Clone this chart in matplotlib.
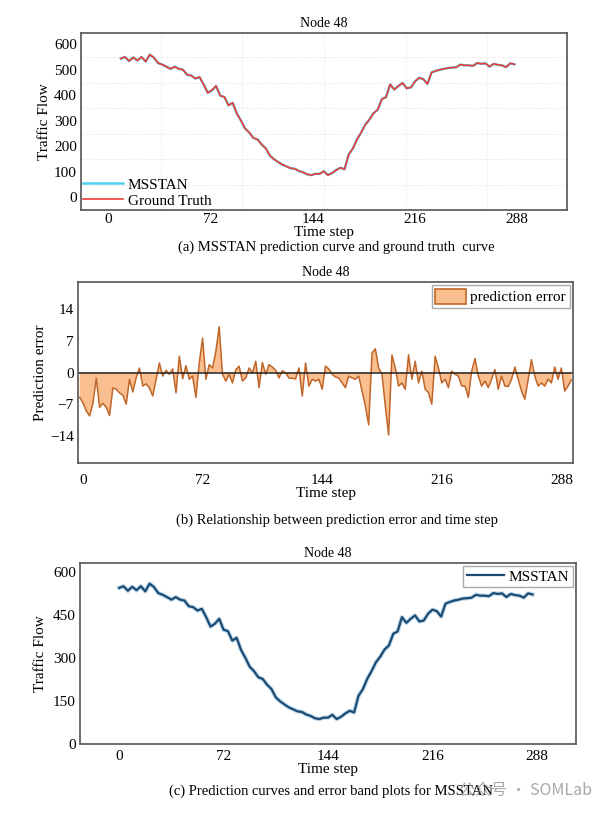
import numpy as np
import matplotlib
matplotlib.use("Agg")
import matplotlib.pyplot as plt
from matplotlib.patches import Patch

plt.rcParams['font.family'] = ['Liberation Serif', 'DejaVu Serif']

# traffic flow of node 48, read every 3 time steps
steps = np.arange(0, 288, 3)
flow = [545, 551, 535, 549, 537, 551, 533, 560, 548, 527, 521, 513,
        504, 513, 504, 501, 481, 478, 466, 472, 443, 410, 420, 437,
        399, 394, 361, 371, 329, 301, 270, 254, 233, 227, 207, 192,
        163, 149, 138, 128, 121, 114, 112, 103, 98, 90, 87, 92,
        92, 102, 87, 95, 107, 116, 110, 168, 191, 227, 254, 285,
        305, 330, 344, 385, 393, 443, 423, 437, 449, 428, 431, 455,
        469, 464, 445, 490, 496, 501, 504, 508, 509, 511, 521, 518,
        518, 516, 527, 524, 526, 513, 524, 520, 518, 511, 526, 522]

# prediction error, read every 2 time steps starting at -2
err = [-5.5, -6.7, -8.5, -9.6, -6.8, -1.3, -7.7, -6.8, -7.7, -9.5,
       -3.4, -3.7, -4.5, -5.0, -7.0, -1.5, -4.3, -1.2, 1.0, -3.0,
       -2.5, -3.4, -5.2, -1.5, 2.1, -0.8, 0.5, -0.4, 0.8, -4.5,
       3.6, -1.4, 1.5, -1.5, -0.8, -5.5, 2.1, 7.6, -1.5, 1.75,
       1.0, 4.7, 10.1, -0.4, -1.9, -0.4, -2.3, 0.6, 1.4, -1.9,
       -1.2, 1.0, -0.1, 2.5, -3.35, 2.2, -0.4, 1.75, 1.2, 0.5,
       -1.2, 0.4, -0.1, -1.2, -1.3, -1.4, 1.0, -5.2, 2.1, -3.0,
       -1.5, -1.9, -1.5, -3.7, 1.4, 0.8, -0.4, -1.0, -1.2, -2.3,
       -3.35, -0.8, -1.2, -1.5, -0.8, -4.1, -7.4, -11.6, 4.3, 5.25,
       1.0, -0.4, -7.4, -13.8, 3.9, 1.0, -3.0, -2.3, -3.7, 3.9,
       -1.5, 2.5, -2.3, 0.3, -3.7, -4.45, -7.0, 3.6, 1.0, -2.3,
       -1.5, -3.35, 0.3, -0.4, -0.8, -3.0, -3.0, -5.5, 0.3, 3.1,
       -0.8, -3.0, -1.9, -3.35, -1.5, 0.66, -3.7, -0.8, -3.0, -3.1,
       -1.5, 1.2, -1.5, -4.1, -5.9, -1.5, 2.85, -0.8, -3.0, -2.3,
       -3.0, -1.5, -2.3, 1.2, -1.5, 1.0, -4.1, -3.0, -1.6]
err_steps = np.arange(-2, -2 + 2 * len(err), 2)

xticks = [0, 72, 144, 216, 288]

fig = plt.figure(figsize=(6.08, 8.16), dpi=100)
W, H = 608, 816


def box(l, t, r, b):
    return [l / W, 1 - b / H, (r - l) / W, (b - t) / H]


def style(ax, xpad, xlabelpad):
    for s in ax.spines.values():
        s.set_color('#555555')
        s.set_linewidth(1.2)
    ax.tick_params(length=0, labelsize=11)
    ax.tick_params(axis='x', pad=xpad)
    ax.tick_params(axis='y', pad=3)
    ax.set_title('Node 48', fontsize=10, pad=4)
    ax.set_xlabel('Time step', fontsize=11, labelpad=xlabelpad)


# (a) prediction vs ground truth
ax1 = fig.add_axes(box(81, 33, 567, 210))
x_a = np.linspace(9, 286, len(flow))
ax1.plot(x_a, flow, color='#4fd3f2', lw=1.8, label='MSSTAN')
ax1.plot(x_a, flow, color='#f03c32', lw=1.2, label='Ground Truth')
ax1.set_xlim(-19, 323)
ax1.set_ylim(-50, 645)
ax1.set_xticks(xticks)
ax1.set_yticks(range(0, 601, 100))
ax1.set_xticks(np.arange(37, 270, 57.5), minor=True)
ax1.set_yticks(range(50, 600, 100), minor=True)
ax1.tick_params(which='minor', length=0)
ax1.grid(which='minor', color='#ececec', lw=0.6, ls='--')
style(ax1, 2, 0)
ax1.set_ylabel('Traffic Flow', fontsize=11, labelpad=2)
ax1.legend(loc='lower left', frameon=False, borderaxespad=0, borderpad=0.15,
           handlelength=2.6, handletextpad=0.3, labelspacing=0.15, fontsize=11)
fig.text(336 / W, 1 - 247 / H, '(a) MSSTAN prediction curve and ground truth  curve',
         ha='center', va='center', fontsize=10.5)

# (b) prediction error
ax2 = fig.add_axes(box(78, 282, 573, 463))
ax2.fill_between(err_steps, err, 0, facecolor='#f9bf8e', edgecolor='none')
ax2.plot(err_steps, err, color='#c0662a', lw=1.1)
ax2.axhline(0, color='#222222', lw=1.1)
ax2.set_xlim(-3, 295)
ax2.set_ylim(-20, 20)
ax2.set_xticks(xticks)
ax2.set_yticks([-14, -7, 0, 7, 14])
style(ax2, 8, 0)
ax2.set_ylabel('Prediction error', fontsize=11, labelpad=2)
ax2.legend(handles=[Patch(facecolor='#f9bf8e', edgecolor='#c0662a', lw=1.2,
                          label='prediction error')],
           loc='upper right', fancybox=False, edgecolor='#aaaaaa', framealpha=1,
           borderaxespad=0.2, borderpad=0.25, handlelength=2.0, handleheight=1.1,
           handletextpad=0.3, fontsize=11)
fig.text(337 / W, 1 - 520 / H, '(b) Relationship between prediction error and time step',
         ha='center', va='center', fontsize=10.5)

# (c) MSSTAN prediction curve
ax3 = fig.add_axes(box(80, 563, 576, 744))
ax3.plot(steps, flow, color='#a9cde6', lw=3.2, alpha=0.7)
ax3.plot(steps, flow, color='#1b4a72', lw=1.6, label='MSSTAN')
ax3.set_xlim(-27, 315)
ax3.set_ylim(0, 632)
ax3.set_xticks(xticks)
ax3.set_yticks([0, 150, 300, 450, 600])
style(ax3, 4, 0)
ax3.set_ylabel('Traffic Flow', fontsize=11, labelpad=4)
ax3.legend(loc='upper right', fancybox=False, edgecolor='#aaaaaa', framealpha=1,
           borderaxespad=0.2, borderpad=0.25, handlelength=2.4,
           handletextpad=0.3, fontsize=11)
fig.text(331 / W, 1 - 791 / H, '(c) Prediction curves and error band plots for MSSTAN',
         ha='center', va='center', fontsize=10.5)
fig.text(592 / W, 1 - 791 / H, '公众号 · SOMLab', ha='right', va='center',
         fontsize=11.5, color='#9a9a9a', alpha=0.85,
         family=['Noto Sans CJK SC', 'DejaVu Sans'])

fig.savefig('out.png', dpi=100)
